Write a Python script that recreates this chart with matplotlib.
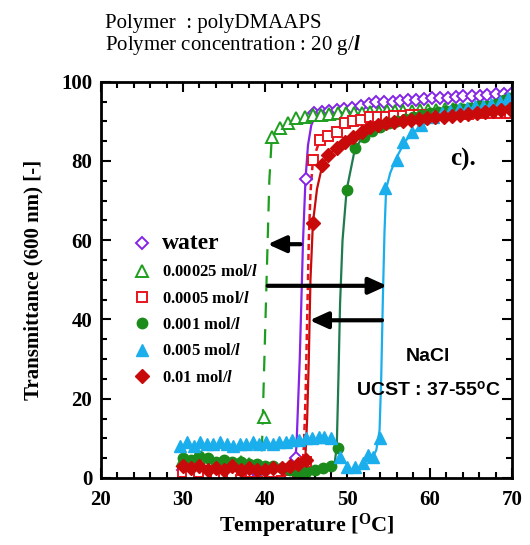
import matplotlib.pyplot as plt
from matplotlib.ticker import MultipleLocator

plt.rcParams['font.family'] = 'Liberation Serif'
plt.rcParams['mathtext.fontset'] = 'custom'
plt.rcParams['mathtext.rm'] = 'Liberation Serif:bold'
plt.rcParams['mathtext.it'] = 'Liberation Serif:italic:bold'
plt.rcParams['mathtext.sf'] = 'Liberation Sans:bold'

#Measured data (temperature in oC, transmittance in %)

water_T = [30, 31, 32, 33, 34, 35, 36, 37, 38, 39, 40, 41, 42, 43, 43.8, 44.9,
           45.9, 46.9, 47.8, 48.7, 49.6, 50.6, 51.6, 52.6, 53.5, 54.5, 55.5, 56.4,
           57.4, 58.3, 59.3, 60.3, 61.2, 62.2, 63.2, 64.1, 65.1, 66.1, 67, 68, 69, 69.9]
water_tr = [2.0, 1.5, 1.8, 1.2, 1.0, 1.5, 1.0, 0.5, 0.3, 0.0, -1.5, -1.8, -1.5, 0.5, 5.0, 75.5,
            92.0, 92.4, 92.5, 92.8, 93.0, 93.5, 94.0, 94.5, 94.8, 95.0, 95.0, 95.2,
            95.3, 95.5, 95.6, 95.8, 96.0, 96.0, 96.2, 96.3, 96.5, 96.5, 96.6, 96.8, 97.0, 97.0]

c00025_T = [30, 31, 32, 33, 34, 35, 36, 37, 38, 39, 39.9,
            40.8, 41.8, 42.8, 43.8, 44.8, 45.8, 46.8, 47.8, 48.8, 49.8, 50.8, 51.8, 52.8,
            53.8, 54.8, 55.8, 56.8, 57.8, 58.8, 59.8, 60.8, 61.8, 62.8, 63.8, 64.8, 65.8,
            66.8, 67.8, 68.8, 69.8]
c00025_tr = [4.5, 4.0, 5.0, 4.0, 3.5, 4.0, 3.5, 4.0, 3.5, 3.0, 15.5,
             86.0, 88.4, 89.6, 90.9, 91.2, 91.5, 91.6, 91.8, 92.0, 92.0, 92.0, 92.2, 92.3,
             92.4, 92.5, 92.5, 92.6, 92.7, 92.8, 92.8, 92.9, 93.0, 93.0, 93.0, 93.1, 93.2,
             93.3, 93.4, 93.5, 94.5]

c0005_T = [30, 31, 32, 33, 34, 35, 36, 37, 38, 39, 40, 41, 42, 43, 44, 44.9,
           45.8, 46.6, 47.6, 48.7, 49.7, 50.7, 51.7, 52.7, 53.7, 54.7, 55.7, 56.7, 57.7,
           58.7, 59.7, 60.7, 61.7, 62.7, 63.7, 64.7, 65.7, 66.7, 67.7, 68.7, 69.7]
c0005_tr = [1.5, 1.0, 1.5, 1.0, 1.0, 0.5, 0.5, -0.5, -1.0, -1.0, -1.2, -1.0, -0.8, -0.5, 1.0, 4.0,
            80.3, 85.4, 86.2, 87.4, 89.6, 90.0, 90.4, 91.0, 91.0, 91.2, 91.3, 91.4, 91.5,
            91.5, 91.6, 91.6, 91.7, 91.8, 91.8, 91.9, 92.0, 92.0, 92.0, 92.1, 92.2]

c001_T = [30, 31, 32, 33, 34, 35, 36, 37, 38, 39, 40, 41, 42, 43, 44, 45, 46, 47, 48, 48.8,
          49.9, 50.9, 52, 53, 54, 55, 56, 57, 58, 59, 60, 61, 62, 63, 64, 65, 66, 67, 68, 69, 69.8]
c001_tr = [5.0, 4.5, 5.5, 5.0, 4.0, 4.5, 4.0, 4.0, 3.5, 3.5, 3.0, 3.0, 2.5, 2.0, 1.0, 1.5, 2.0, 2.5, 3.0, 7.6,
           72.7, 83.3, 86.0, 87.5, 88.5, 89.5, 90.0, 90.5, 91.0, 91.5, 92.0, 92.3, 92.6, 93.0,
           93.2, 93.5, 93.8, 94.0, 94.5, 95.5, 96.0]

c005_T = [29.6, 30.5, 31.3, 32.1, 32.9, 33.7, 34.5, 35.3, 36.1, 36.9, 37.7, 38.5, 39.3,
          40.1, 40.9, 41.7, 42.5, 43.3, 44.1, 44.9, 45.7, 46.5, 47.2, 48.0,
          49.1, 49.9, 50.9, 51.9, 52.5, 53.1, 53.9,
          54.6, 56.0, 56.8, 57.8, 59.0, 60.4,
          61.5, 62.5, 63.5, 64.5, 65.5, 66.5, 67.5, 68.5, 69.5]
c005_tr = [8.0, 9.0, 8.0, 9.0, 8.5, 8.5, 9.0, 8.5, 8.0, 8.5, 8.5, 9.0, 8.5,
           9.0, 8.5, 9.0, 9.0, 9.5, 9.5, 10.0, 10.0, 10.4, 10.4, 10.2,
           5.3, 2.8, 2.8, 3.8, 5.8, 5.3, 10.1,
           73.2, 80.3, 84.8, 87.4, 89.0, 91.0,
           92.0, 92.5, 93.0, 93.5, 93.8, 94.0, 94.5, 95.0, 96.0]

c01_T = [30, 31, 32, 33, 34, 35, 36, 37, 38, 39, 40, 41, 42, 43, 44, 45.0,
         45.8, 46.9, 47.6, 48.7, 49.7, 50.7, 51.8, 52.7, 53.7, 54.7, 55.7, 56.7, 57.7,
         58.7, 59.7, 60.7, 61.7, 62.7, 63.7, 64.7, 65.7, 66.7, 67.7, 68.7, 69.7]
c01_tr = [3.0, 2.5, 3.0, 2.0, 2.5, 2.0, 3.0, 2.0, 2.5, 2.0, 2.0, 2.5, 2.5, 3.0, 3.5, 4.5,
          64.4, 79.0, 81.6, 83.3, 84.8, 86.0, 87.4, 88.6, 89.0, 89.5, 89.8, 90.0, 90.3,
          90.5, 90.8, 91.0, 91.2, 91.4, 91.6, 91.8, 92.0, 92.3, 92.5, 92.8, 93.0]

#Fitted curves through the transition region

water_fit_T = [43.0, 43.4, 43.8, 44.2, 44.6, 44.9, 45.2, 45.6, 46.0, 47.0]
water_fit = [-1.5, 0.0, 8.0, 30.0, 60.0, 75.5, 84.0, 89.0, 91.0, 92.3]
c00025_fit_T = [39.5, 39.7, 39.9, 40.1, 40.3, 40.5, 40.8]
c00025_fit = [0.0, 15.0, 30.0, 45.0, 60.0, 75.0, 86.0]
c0005_fit_T = [44.5, 44.7, 44.9, 45.1, 45.3, 45.5, 45.8, 46.6, 47.6]
c0005_fit = [2.0, 8.0, 20.0, 40.0, 60.0, 72.0, 80.3, 85.0, 86.5]
c001_fit_T = [48.4, 48.7, 48.9, 49.1, 49.4, 49.9, 50.9, 52.0, 54.0]
c001_fit = [3.0, 8.0, 25.0, 44.0, 60.0, 72.7, 83.0, 86.5, 88.5]
c005_fit_T = [53.0, 53.5, 53.9, 54.1, 54.3, 54.5, 54.7, 55.2, 56.0, 57.0, 58.5, 60.5]
c005_fit = [5.0, 7.0, 12.0, 25.0, 45.0, 62.0, 73.0, 77.0, 81.0, 85.0, 88.0, 91.0]
c01_fit_T = [44.6, 44.9, 45.1, 45.3, 45.5, 45.8, 46.3, 46.9, 47.6, 48.7]
c01_fit = [3.0, 6.0, 15.0, 30.0, 50.0, 64.4, 73.0, 78.5, 81.5, 83.3]

labels = ['water', '0.00025 mol/$\\mathit{l}$', '0.0005 mol/$\\mathit{l}$',
          '0.001 mol/$\\mathit{l}$', '0.005 mol/$\\mathit{l}$', '0.01 mol/$\\mathit{l}$']

#Arrows (tail T, head T, transmittance)
arrows = [(44.3, 40.3, 59.0), (40.3, 54.8, 48.5), (54.2, 45.4, 39.8)]

fig = plt.figure(figsize=(5.3, 5.45), dpi=100)
ax = fig.add_axes([0.19, 0.123, 0.776, 0.727])

purple = '#8424E6'
green_o = '#1E9E1E'
red_o = '#E8141E'
green_f = '#1B8C1B'
green_line = '#1F7A4D'
blue = '#1AAEEC'
red_f = '#C80A0A'

#Fit lines
ax.plot(water_fit_T, water_fit, color=purple, lw=1.6)
ax.plot(c00025_fit_T, c00025_fit, color=green_o, lw=1.6, dashes=(7, 5))
ax.plot(c0005_fit_T, c0005_fit, color=red_o, lw=1.8, dashes=(2.5, 1.5))
ax.plot(c001_fit_T, c001_fit, color=green_line, lw=1.6)
ax.plot(c005_fit_T, c005_fit, color=blue, lw=1.6)
ax.plot(c01_fit_T, c01_fit, color=red_f, lw=1.6)

#Data points
h1, = ax.plot(water_T, water_tr, ls='none', marker='D', ms=6.5, mfc='white', mec=purple, mew=1.4)
h2, = ax.plot(c00025_T, c00025_tr, ls='none', marker='^', ms=8.5, mfc='white', mec=green_o, mew=1.4)
h3, = ax.plot(c0005_T, c0005_tr, ls='none', marker='s', ms=7, mfc='white', mec=red_o, mew=1.4)
h4, = ax.plot(c001_T, c001_tr, ls='none', marker='o', ms=7.5, mfc=green_f, mec=green_f)
h5, = ax.plot(c005_T, c005_tr, ls='none', marker='^', ms=9, mfc=blue, mec=blue)
h6, = ax.plot(c01_T, c01_tr, ls='none', marker='D', ms=7, mfc=red_f, mec=red_f)

for t0, t1, y in arrows:
   ax.annotate('', xy=(t1, y), xytext=(t0, y),
               arrowprops=dict(arrowstyle='-|>,head_length=1.1,head_width=0.5',
                               color='black', lw=3, shrinkA=0, shrinkB=0))

leg = ax.legend([h1, h2, h3, h4, h5, h6], labels, loc='upper left',
                bbox_to_anchor=(0.065, 0.635), frameon=False,
                prop={'weight': 'bold', 'size': 12}, handlelength=1.0,
                handletextpad=0.7, labelspacing=0.62, borderaxespad=0)
leg.get_texts()[0].set_fontsize(17)

ax.text(64.0, 80.5, 'c).', fontsize=18, fontweight='bold', ha='center', va='center')
ax.text(59.8, 30.6, 'NaCl', fontsize=14, fontweight='bold', ha='center', va='center',
        family='Liberation Sans')
ax.text(59.8, 22.2, 'UCST : 37-55$^{\\mathsf{o}}$C', fontsize=14, fontweight='bold',
        ha='center', va='center', family='Liberation Sans')

fig.text(0.198, 0.949, 'Polymer  : polyDMAAPS', fontsize=15, va='baseline')
fig.text(0.198, 0.908, 'Polymer concentration : 20 g/$\\mathit{l}$', fontsize=15, va='baseline')

ax.set_xlim(20, 70)
ax.set_ylim(0, 100)
ax.xaxis.set_major_locator(MultipleLocator(10))
ax.xaxis.set_minor_locator(MultipleLocator(2))
ax.yaxis.set_major_locator(MultipleLocator(20))
ax.yaxis.set_minor_locator(MultipleLocator(5))
ax.tick_params(which='both', direction='in', top=True, right=True, width=1.5)
ax.tick_params(which='major', length=7, labelsize=15, pad=6)
ax.tick_params(axis='x', which='major', pad=9)
ax.tick_params(which='minor', length=4)
for lab in ax.get_xticklabels() + ax.get_yticklabels():
   lab.set_fontweight('bold')
for sp in ax.spines.values():
   sp.set_linewidth(2)

ax.set_xlabel('Temperature [$^{\\mathrm{O}}$C]', fontsize=16, fontweight='bold', labelpad=1)
ax.set_ylabel('Transmittance (600 nm) [-]', fontsize=15, fontweight='bold', labelpad=13)

plt.savefig('out.png', dpi=100)
